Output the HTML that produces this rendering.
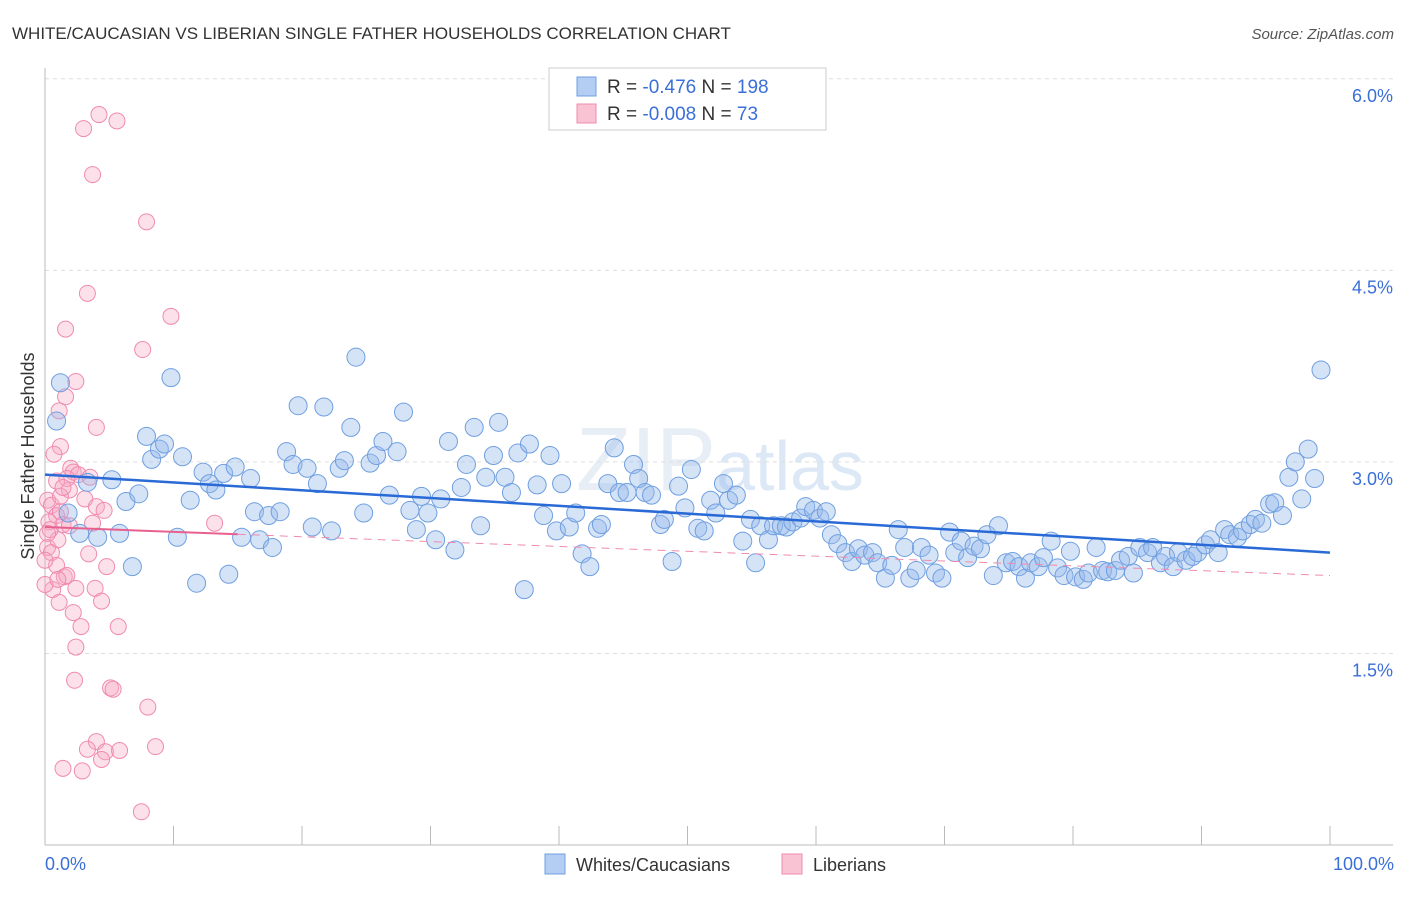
<!DOCTYPE html>
<html><head><meta charset="utf-8"><style>
body{margin:0;background:#fff;font-family:"Liberation Sans",sans-serif;}
svg text{font-family:"Liberation Sans",sans-serif;}
</style></head><body>
<svg id="chart" width="1406" height="892" xmlns="http://www.w3.org/2000/svg">
<text x="12" y="39" font-size="17" fill="#333">WHITE/CAUCASIAN VS LIBERIAN SINGLE FATHER HOUSEHOLDS CORRELATION CHART</text>
<text x="1394" y="39" font-size="15" fill="#555" font-style="italic" text-anchor="end">Source: ZipAtlas.com</text>
<text x="720" y="490" font-size="90" fill="#e8eef6" text-anchor="middle" font-family="Liberation Serif">ZIP<tspan font-family="Liberation Sans" font-size="70" fill="#dce8f6">atlas</tspan></text>
<g id="grid"></g>
<g id="axes"></g>
<g id="marks"></g>
<g id="trends"></g>
<text transform="translate(34,456) rotate(-90)" font-size="18" fill="#333" text-anchor="middle">Single Father Households</text>
<text x="45" y="870" font-size="18" fill="#3a6fd8">0.0%</text>
<text x="1394" y="870" font-size="18" fill="#3a6fd8" text-anchor="end">100.0%</text>
<g>
<rect x="549" y="68" width="277" height="62" fill="#fff" stroke="#ccc"/>
<rect x="577" y="77" width="19" height="19" fill="#b4cdf2" stroke="#6f9fe0"/>
<rect x="577" y="104" width="19" height="19" fill="#f9c3d4" stroke="#f08bb0"/>
<text x="607" y="93" font-size="19" fill="#333">R = <tspan fill="#3a6fd8">-0.476</tspan>   N = <tspan fill="#3a6fd8">198</tspan></text>
<text x="607" y="120" font-size="19" fill="#333">R = <tspan fill="#3a6fd8">-0.008</tspan>   N =   <tspan fill="#3a6fd8">73</tspan></text>
</g>
<g>
<rect x="545" y="854" width="20" height="20" fill="#b4cdf2" stroke="#6f9fe0"/>
<text x="576" y="871" font-size="18" fill="#333">Whites/Caucasians</text>
<rect x="782" y="854" width="20" height="20" fill="#f9c3d4" stroke="#f08bb0"/>
<text x="813" y="871" font-size="18" fill="#333">Liberians</text>
</g>
</svg>
<script>
const yTicks=[1.5,3.0,4.5,6.0];
const yTickLabels=["1.5%","3.0%","4.5%","6.0%"];
const xTicks=[0,10,20,30,40,50,60,70,80,90,100];
const blueX=[1.2,0.9,1.8,2.7,3.3,4.1,5.2,6.3,5.8,6.8,7.3,7.9,8.3,8.9,9.3,9.8,10.3,10.7,11.3,11.8,12.3,12.8,13.3,13.9,14.3,14.8,15.3,16.0,16.3,16.7,17.4,17.7,18.3,18.8,19.3,19.7,20.4,20.8,21.2,21.7,22.3,22.9,23.3,23.8,24.2,24.8,25.3,25.8,26.3,26.8,27.4,27.9,28.4,28.9,29.3,29.8,30.4,30.8,31.4,31.9,32.4,32.8,33.4,33.9,34.3,34.9,35.3,35.8,36.3,36.8,37.3,37.7,38.3,38.8,39.3,39.8,40.2,40.8,41.3,41.8,42.4,43.0,43.3,43.8,44.3,44.7,45.3,45.8,46.2,46.7,47.2,47.9,48.2,48.8,49.3,49.8,50.3,50.8,51.3,51.8,52.2,52.8,53.2,53.8,54.3,54.9,55.3,55.7,56.3,56.7,57.3,57.7,58.2,58.8,59.2,59.8,60.3,60.8,61.2,61.7,62.3,62.8,63.3,63.8,64.4,64.8,65.4,65.9,66.4,66.9,67.3,67.8,68.2,68.8,69.3,69.8,70.4,70.8,71.3,71.8,72.3,72.8,73.3,73.8,74.2,74.8,75.3,75.8,76.3,76.7,77.3,77.7,78.3,78.8,79.3,79.8,80.2,80.8,81.2,81.8,82.3,82.7,83.3,83.7,84.3,84.7,85.2,85.8,86.2,86.8,87.2,87.8,88.2,88.8,89.3,89.7,90.3,90.7,91.3,91.8,92.2,92.8,93.2,93.8,94.2,94.7,95.3,95.7,96.3,96.8,97.3,97.8,98.3,98.8,99.3];
const blueY=[3.62,3.32,2.60,2.44,2.84,2.41,2.86,2.69,2.44,2.18,2.75,3.20,3.02,3.10,3.14,3.66,2.41,3.04,2.70,2.05,2.92,2.83,2.78,2.91,2.12,2.96,2.41,2.87,2.61,2.39,2.58,2.33,2.61,3.08,2.98,3.44,2.95,2.49,2.83,3.43,2.46,2.95,3.01,3.27,3.82,2.60,2.99,3.05,3.16,2.74,3.08,3.39,2.62,2.47,2.73,2.60,2.39,2.71,3.16,2.31,2.80,2.98,3.27,2.50,2.88,3.05,3.31,2.88,2.76,3.07,2.00,3.14,2.82,2.58,3.05,2.46,2.83,2.49,2.60,2.28,2.18,2.48,2.51,2.83,3.11,2.76,2.76,2.98,2.87,2.76,2.74,2.51,2.55,2.22,2.81,2.64,2.94,2.48,2.46,2.70,2.60,2.83,2.70,2.74,2.38,2.55,2.21,2.50,2.39,2.50,2.50,2.49,2.53,2.56,2.65,2.62,2.56,2.61,2.43,2.36,2.29,2.22,2.32,2.27,2.29,2.21,2.09,2.19,2.47,2.33,2.09,2.15,2.33,2.27,2.13,2.09,2.45,2.29,2.38,2.25,2.34,2.32,2.43,2.11,2.50,2.21,2.22,2.18,2.09,2.21,2.18,2.25,2.38,2.17,2.11,2.30,2.10,2.08,2.13,2.33,2.15,2.14,2.15,2.23,2.26,2.13,2.33,2.29,2.33,2.21,2.26,2.18,2.29,2.23,2.26,2.29,2.35,2.39,2.29,2.47,2.43,2.41,2.46,2.51,2.55,2.52,2.67,2.68,2.58,2.88,3.00,2.71,3.10,2.87,3.72];
const pinkX=[4.2,5.6,3.0,3.7,7.9,3.3,9.8,1.6,7.6,2.4,1.6,1.1,4.0,1.2,0.7,2.0,2.2,2.6,1.7,3.1,0.9,0.2,0.5,0.9,1.2,1.4,1.9,0.3,3.7,4.0,4.6,13.2,0.2,0.5,3.4,0.9,4.8,1.5,1.7,2.4,3.9,0.6,4.4,1.1,2.2,2.8,5.7,2.4,2.3,5.1,5.3,8.0,4.0,3.3,4.7,5.8,8.6,4.4,1.4,2.9,7.5,1.0,0.4,0.2,0.0,0.0,1.0,1.9,3.5,1.2,1.4];
const pinkY=[5.72,5.67,5.61,5.25,4.88,4.32,4.14,4.04,3.88,3.63,3.51,3.40,3.27,3.12,3.06,2.95,2.92,2.90,2.87,2.71,2.85,2.70,2.66,2.58,2.61,2.51,2.50,2.53,2.52,2.65,2.62,2.52,2.33,2.29,2.28,2.19,2.18,2.10,2.11,2.01,2.01,2.00,1.91,1.90,1.82,1.71,1.71,1.55,1.29,1.23,1.22,1.08,0.81,0.75,0.73,0.74,0.77,0.67,0.60,0.58,0.26,2.39,2.47,2.44,2.23,2.04,2.08,2.78,2.88,2.73,2.80];
const blueTrend=[2.90,2.29];
const pinkTrend=[2.49,2.11];
const pinkSolidEnd=15;

const NS="http://www.w3.org/2000/svg";
const X0=45,X1=1330,YBASE=845,PXPERPCT=127.7;
const sx=v=>X0+(X1-X0)*v/100;
const sy=v=>YBASE-v*PXPERPCT;
function mk(tag,attrs,parent){const e=document.createElementNS(NS,tag);for(const k in attrs)e.setAttribute(k,attrs[k]);parent.appendChild(e);return e;}
const grid=document.getElementById('grid'),axes=document.getElementById('axes'),marks=document.getElementById('marks'),trends=document.getElementById('trends');
yTicks.forEach((t,i)=>{
  const l=mk('line',{x1:45,x2:1393,y1:sy(t),y2:sy(t),stroke:'#ddd','stroke-dasharray':'4,4'},grid);
  
  
  const tx=mk('text',{x:1393,y:sy(t)+23,'font-size':18,fill:'#3a6fd8','text-anchor':'end'},axes);
  tx.textContent=yTickLabels[i];
  
  
});
const ax=mk('line',{x1:45,x2:1393,y1:845,y2:845,stroke:'#bbb'},axes);


const ay=mk('line',{x1:45,x2:45,y1:68,y2:845,stroke:'#bbb'},axes);


xTicks.forEach(t=>{
  const l=mk('line',{x1:sx(t),x2:sx(t),y1:826,y2:845,stroke:'#bbb'},axes);
  
  
});
pinkX.forEach((x,i)=>{
  const c=mk('circle',{cx:sx(x),cy:sy(pinkY[i]),r:8,fill:'rgba(245,170,195,0.35)',stroke:'#f08bb0','stroke-width':1},marks);
  
  
});
blueX.forEach((x,i)=>{
  const c=mk('circle',{cx:sx(x),cy:sy(blueY[i]),r:9,fill:'rgba(150,185,235,0.4)',stroke:'#6f9fe0','stroke-width':1},marks);
  
  
});
const py=x=>pinkTrend[0]+(pinkTrend[1]-pinkTrend[0])*x/100;
const pd=mk('line',{x1:sx(pinkSolidEnd),y1:sy(py(pinkSolidEnd)),x2:sx(100),y2:sy(pinkTrend[1]),stroke:'#f08bb0','stroke-width':1,'stroke-dasharray':'8,6'},trends);


const ps=mk('line',{x1:sx(0),y1:sy(pinkTrend[0]),x2:sx(pinkSolidEnd),y2:sy(py(pinkSolidEnd)),stroke:'#e8608f','stroke-width':2},trends);


const bt=mk('line',{x1:sx(0),y1:sy(blueTrend[0]),x2:sx(100),y2:sy(blueTrend[1]),stroke:'#2a6ad6','stroke-width':2.5},trends);


</script>
</body></html>
